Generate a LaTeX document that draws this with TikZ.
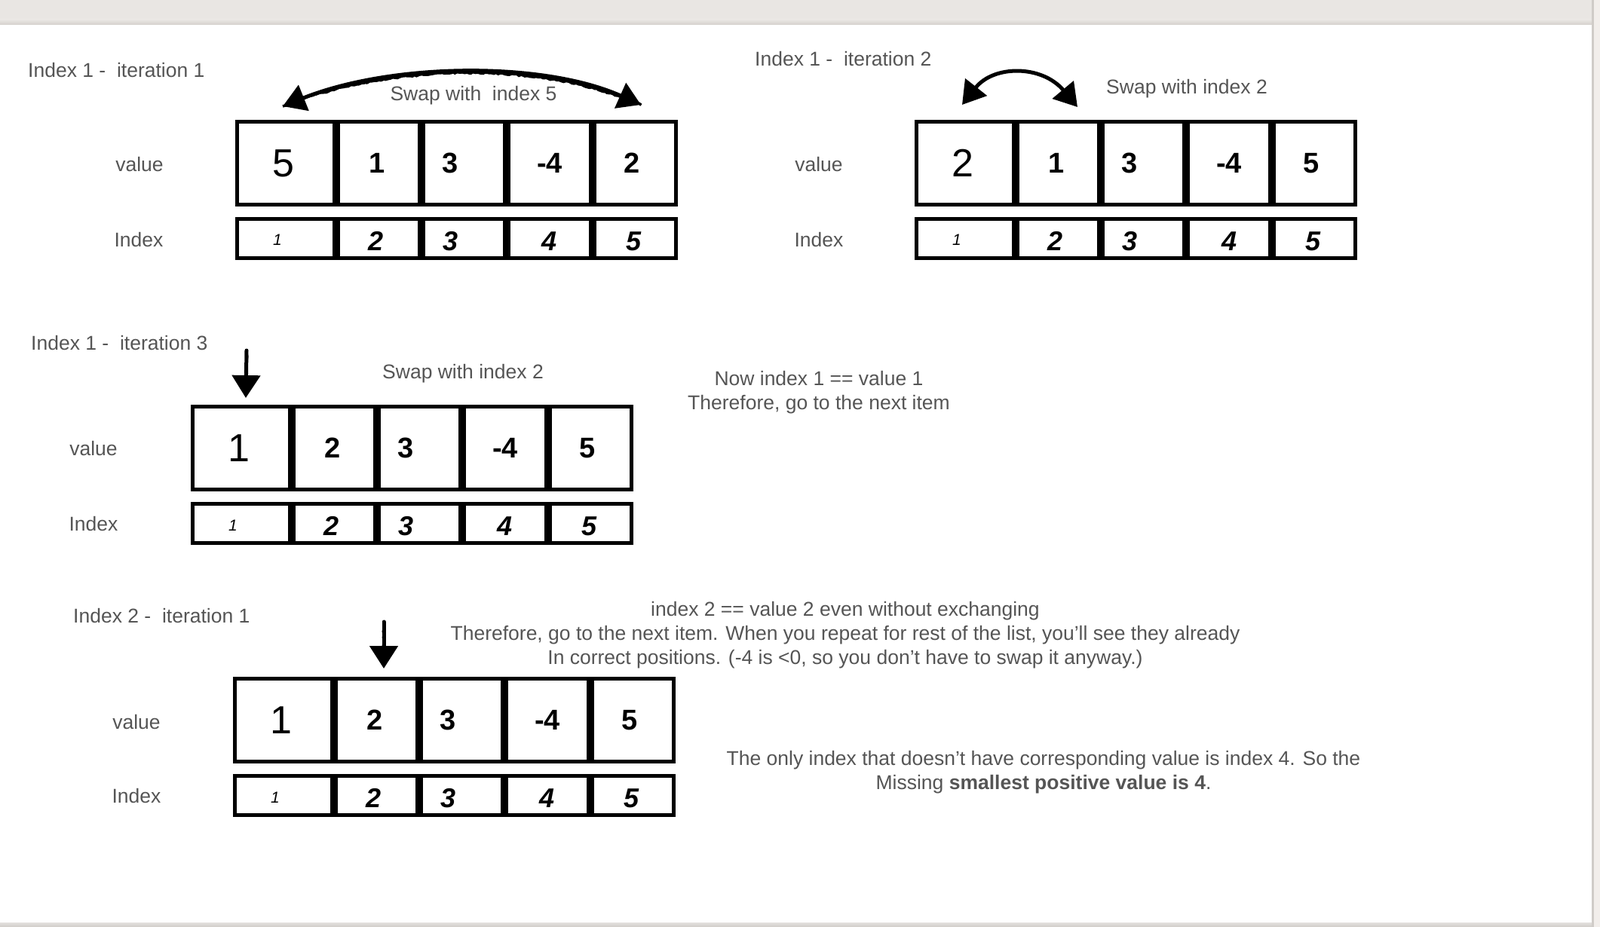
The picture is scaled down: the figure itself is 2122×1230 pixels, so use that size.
\documentclass[tikz,border=0pt]{standalone}
\usepackage{fontspec}
\setmainfont{Liberation Sans}
\usetikzlibrary{arrows.meta,decorations.pathmorphing,calc}
\definecolor{txtgrey}{RGB}{85,85,85}
\definecolor{barbg}{RGB}{233,230,227}
\definecolor{barshadow}{RGB}{212,208,204}
\definecolor{edgeline}{RGB}{208,204,200}
\definecolor{edgebg}{RGB}{242,238,235}
% name, x-left, x-right, y-top, y-bottom, style, text
\newcommand\cellnode[7]{\node[#6, minimum width={#3-#2-5}, minimum height={#5-#4-5}] (#1) at ({(#2+#3)/2},{(#4+#5)/2}) {#7};}
\begin{document}
\begin{tikzpicture}[x=1pt,y=-1pt,
  lbl/.style={text=txtgrey, font=\fontsize{26.5}{32}\selectfont, inner sep=0pt},
  cellbox/.style={draw=black, line width=5pt, inner sep=0pt, fill=white},
  bigv/.style={cellbox, font=\fontsize{52}{52}\selectfont, text depth=0pt},
  valv/.style={cellbox, font=\bfseries\fontsize{38}{38}\selectfont},
  idxa/.style={cellbox, font=\itshape\fontsize{21}{21}\selectfont, text height=19pt, text depth=0pt},
  idxn/.style={cellbox, font=\bfseries\itshape\fontsize{36}{36}\selectfont, text height=32pt, text depth=0pt},
  sketch/.style={line width=5pt, black, line cap=round},
  rough/.style={line width=3.5pt, black, decorate, decoration={random steps, segment length=3pt, amplitude=1pt}},
  swaptips/.style={sketch, {Triangle[length=30pt,width=36pt]}-{Triangle[length=30pt,width=36pt]}},
  downtip/.style={sketch, -{Triangle[length=30pt,width=37pt]}}
]
\useasboundingbox (0,0) rectangle (2122,1230);
% page frame
\fill[white] (0,0) rectangle (2122,1230);
\fill[barbg] (0,0) rectangle (2122,33);
\shade[top color=barbg, bottom color=barshadow] (0,26) rectangle (2112,33);
\fill[edgebg] (2114,0) rectangle (2122,1230);
\fill[edgeline] (2111,0) rectangle (2114,1230);
\shade[top color=edgeline!60, bottom color=edgeline] (0,1224) rectangle (2111,1230);

% ---------- Panel 1 ----------
\node[lbl, anchor=west] (t1) at (37,93) {Index 1 -\ \ iteration 1};
\node[lbl] (v1lbl) at (185,218) {value};
\node[lbl] (i1lbl) at (184,318) {Index};
\cellnode{p1v1}{312}{446}{159}{274}{bigv}{\hspace*{-6pt}5}
\cellnode{p1v2}{446}{559}{159}{274}{valv}{\hspace*{-5pt}1}
\cellnode{p1v3}{559}{672}{159}{274}{valv}{\hspace*{-36pt}3}
\cellnode{p1v4}{672}{786}{159}{274}{valv}{-4}
\cellnode{p1v5}{786}{899}{159}{274}{valv}{\hspace*{-8pt}2}
\cellnode{p1i1}{312}{446}{288}{345}{idxa}{\hspace*{-22pt}1}
\cellnode{p1i2}{446}{559}{288}{345}{idxn}{\hspace*{-8pt}2}
\cellnode{p1i3}{559}{672}{288}{345}{idxn}{\hspace*{-36pt}3}
\cellnode{p1i4}{672}{786}{288}{345}{idxn}{4}
\cellnode{p1i5}{786}{899}{288}{345}{idxn}{\hspace*{-4pt}5}
\node[lbl] (s1) at (628,127) {Swap with\ \ index 5};
\coordinate (a1l) at (375,141);
\coordinate (a1r) at (850,139);
\draw[swaptips] (a1l) .. controls (520,83) and (720,81) .. (a1r);
\draw[rough] (a1l) .. controls (520,83) and (720,81) .. (a1r);

% ---------- Panel 2 ----------
\node[lbl, anchor=west] (t2) at (1001,78) {Index 1 -\ \ iteration 2};
\node[lbl] (v2lbl) at (1086,218) {value};
\node[lbl] (i2lbl) at (1086,318) {Index};
\cellnode{p2v1}{1213}{1347}{159}{274}{bigv}{\hspace*{-6pt}2}
\cellnode{p2v2}{1347}{1460}{159}{274}{valv}{\hspace*{-5pt}1}
\cellnode{p2v3}{1460}{1573}{159}{274}{valv}{\hspace*{-36pt}3}
\cellnode{p2v4}{1573}{1687}{159}{274}{valv}{-4}
\cellnode{p2v5}{1687}{1800}{159}{274}{valv}{\hspace*{-8pt}5}
\cellnode{p2i1}{1213}{1347}{288}{345}{idxa}{\hspace*{-22pt}1}
\cellnode{p2i2}{1347}{1460}{288}{345}{idxn}{\hspace*{-8pt}2}
\cellnode{p2i3}{1460}{1573}{288}{345}{idxn}{\hspace*{-36pt}3}
\cellnode{p2i4}{1573}{1687}{288}{345}{idxn}{4}
\cellnode{p2i5}{1687}{1800}{288}{345}{idxn}{\hspace*{-4pt}5}
\node[lbl] (s2) at (1574,118) {Swap with index 2};
\coordinate (a2l) at (1276,139);
\coordinate (a2r) at (1429,142);
\draw[swaptips] (a2l) .. controls (1318,86) and (1382,86) .. (a2r);

% ---------- Panel 3 ----------
\node[lbl, anchor=west] (t3) at (41,455) {Index 1 -\ \ iteration 3};
\node[lbl] (v3lbl) at (124,595) {value};
\node[lbl] (i3lbl) at (124,695) {Index};
\cellnode{p3v1}{253}{387}{537}{652}{bigv}{\hspace*{-6pt}1}
\cellnode{p3v2}{387}{500}{537}{652}{valv}{\hspace*{-5pt}2}
\cellnode{p3v3}{500}{613}{537}{652}{valv}{\hspace*{-36pt}3}
\cellnode{p3v4}{613}{727}{537}{652}{valv}{-4}
\cellnode{p3v5}{727}{840}{537}{652}{valv}{\hspace*{-8pt}5}
\cellnode{p3i1}{253}{387}{666}{723}{idxa}{\hspace*{-22pt}1}
\cellnode{p3i2}{387}{500}{666}{723}{idxn}{\hspace*{-8pt}2}
\cellnode{p3i3}{500}{613}{666}{723}{idxn}{\hspace*{-36pt}3}
\cellnode{p3i4}{613}{727}{666}{723}{idxn}{4}
\cellnode{p3i5}{727}{840}{666}{723}{idxn}{\hspace*{-4pt}5}
\node[lbl] (s3) at (614,496) {Swap with index 2};
\node[lbl, align=center] (n3) at (1086,521) {Now index 1 == value 1\\Therefore, go to the next item};
\coordinate (a3s) at (327,465);
\coordinate (a3e) at (326,528);
\draw[downtip] (a3s) -- (a3e);
\draw[rough] (a3s) -- ($(a3e)+(0,-20)$);

% ---------- Panel 4 ----------
\node[lbl, anchor=west] (t4) at (97,817) {Index 2 -\ \ iteration 1};
\node[lbl] (v4lbl) at (181,958) {value};
\node[lbl] (i4lbl) at (181,1056) {Index};
\cellnode{p4v1}{309}{443}{898}{1013}{bigv}{\hspace*{-6pt}1}
\cellnode{p4v2}{443}{556}{898}{1013}{valv}{\hspace*{-5pt}2}
\cellnode{p4v3}{556}{669}{898}{1013}{valv}{\hspace*{-36pt}3}
\cellnode{p4v4}{669}{783}{898}{1013}{valv}{-4}
\cellnode{p4v5}{783}{896}{898}{1013}{valv}{\hspace*{-8pt}5}
\cellnode{p4i1}{309}{443}{1027}{1084}{idxa}{\hspace*{-22pt}1}
\cellnode{p4i2}{443}{556}{1027}{1084}{idxn}{\hspace*{-8pt}2}
\cellnode{p4i3}{556}{669}{1027}{1084}{idxn}{\hspace*{-36pt}3}
\cellnode{p4i4}{669}{783}{1027}{1084}{idxn}{4}
\cellnode{p4i5}{783}{896}{1027}{1084}{idxn}{\hspace*{-4pt}5}
\node[lbl, align=center] (n4) at (1121,843) {index 2 == value 2 even without exchanging\\Therefore, go to the next item. When you repeat for rest of the list, you’ll see they already\\In correct positions. (-4 is <0, so you don’t have to swap it anyway.)};
\node[lbl, align=center] (fin) at (1384,1025) {The only index that doesn’t have corresponding value is index 4. So the\\Missing \textbf{smallest positive value is 4}.};
\coordinate (a4s) at (509,825);
\coordinate (a4e) at (509,887);
\draw[downtip] (a4s) -- (a4e);
\draw[rough] (a4s) -- ($(a4e)+(0,-20)$);
\end{tikzpicture}
\end{document}
